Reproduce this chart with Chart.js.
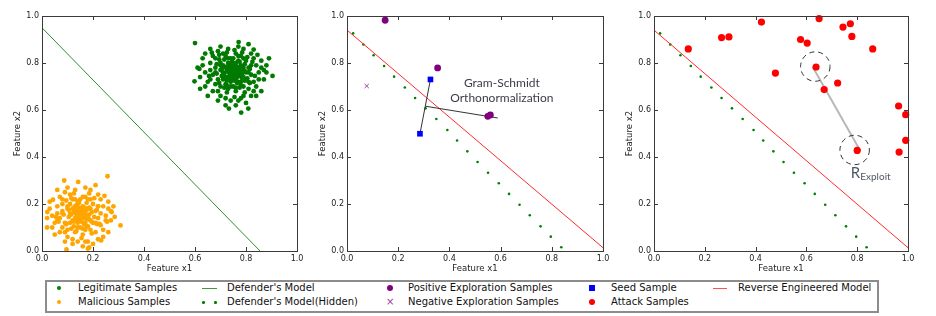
<!doctype html>
<html lang="en">
<head>
<meta charset="utf-8">
<title>Model extraction scatter plots</title>
<script src="https://cdn.jsdelivr.net/npm/chart.js"></script>
<style>
  body { margin:0; background:#fff; width:936px; height:316px; position:relative; overflow:hidden;
         font-family:"DejaVu Sans", sans-serif; }
  canvas { position:absolute; top:0; }
  #legend { position:absolute; left:45px; top:280px; width:830px; height:29px; border:2px solid #8c8c8c; }
  .lbl { position:absolute; font-size:10px; line-height:12px; color:#111; white-space:nowrap; }
  .mk { position:absolute; }
</style>
</head>
<body>
<canvas id="c1" width="310" height="280" style="left:0px"></canvas>
<canvas id="c2" width="310" height="280" style="left:305px"></canvas>
<canvas id="c3" width="324" height="280" style="left:612px"></canvas>

<div id="legend"></div>
<!-- legend markers -->
<div class="mk" style="left:57px;top:286px;width:4px;height:4px;border-radius:50%;background:#008000"></div>
<div class="mk" style="left:57px;top:300px;width:4px;height:4px;border-radius:50%;background:#ffa500"></div>
<div class="mk" style="left:202px;top:288px;width:15px;height:1px;background:#3c9c3c"></div>
<div class="mk" style="left:202px;top:301px;width:2.5px;height:2.5px;border-radius:50%;background:#008000"></div>
<div class="mk" style="left:214px;top:301px;width:2.5px;height:2.5px;border-radius:50%;background:#008000"></div>
<div class="mk" style="left:387px;top:285px;width:6px;height:6px;border-radius:50%;background:#800080"></div>
<div class="mk" style="left:386px;top:296px;font-size:10px;line-height:12px;color:#a040a0">×</div>
<div class="mk" style="left:589px;top:285px;width:6px;height:6px;background:#0000ff"></div>
<div class="mk" style="left:589px;top:299px;width:6px;height:6px;border-radius:50%;background:#ff0000"></div>
<div class="mk" style="left:713px;top:288px;width:14px;height:1px;background:#ff5050"></div>
<!-- legend text -->
<div class="lbl" style="left:78px;top:282px">Legitimate Samples</div>
<div class="lbl" style="left:78px;top:296px">Malicious Samples</div>
<div class="lbl" style="left:227px;top:282px">Defender's Model</div>
<div class="lbl" style="left:227px;top:296px">Defender's Model(Hidden)</div>
<div class="lbl" style="left:408px;top:282px">Positive Exploration Samples</div>
<div class="lbl" style="left:408px;top:296px">Negative Exploration Samples</div>
<div class="lbl" style="left:611px;top:282px">Seed Sample</div>
<div class="lbl" style="left:611px;top:296px">Attack Samples</div>
<div class="lbl" style="left:738px;top:282px">Reverse Engineered Model</div>

<script>
// ---- data (feature x1, feature x2) ----
const legitimate = [
  [0.60,0.885],[0.598,0.722],[0.771,0.889],[0.904,0.745],[0.781,0.589],[0.809,0.606],[0.733,0.606],[0.617,0.775],[0.89,0.82],[0.83,0.857],[0.666,0.844],
  [0.70,0.80],[0.72,0.78],[0.74,0.76],[0.76,0.75],[0.78,0.77],[0.75,0.79],[0.73,0.74],[0.77,0.72],[0.79,0.74],[0.71,0.76],
  [0.68,0.78],[0.69,0.73],[0.81,0.78],[0.80,0.81],[0.74,0.82],[0.76,0.84],[0.72,0.83],[0.78,0.83],[0.82,0.75],[0.83,0.72],
  [0.70,0.70],[0.73,0.69],[0.76,0.68],[0.79,0.70],[0.81,0.69],[0.67,0.75],[0.66,0.80],[0.65,0.72],[0.84,0.79],[0.85,0.76],
  [0.75,0.73],[0.77,0.76],[0.74,0.78],[0.72,0.71],[0.78,0.79],[0.80,0.76],[0.71,0.79],[0.76,0.80],[0.73,0.77],[0.75,0.70],
  [0.64,0.76],[0.63,0.79],[0.67,0.83],[0.69,0.85],[0.73,0.86],[0.79,0.86],[0.82,0.84],[0.86,0.81],[0.87,0.73],[0.84,0.70],
  [0.82,0.66],[0.78,0.65],[0.74,0.64],[0.70,0.66],[0.67,0.68],[0.64,0.70],[0.62,0.74],[0.66,0.77],[0.68,0.71],[0.71,0.73],
  [0.745,0.745],[0.765,0.765],[0.755,0.775],[0.735,0.755],[0.775,0.745],[0.725,0.765],[0.785,0.755],[0.745,0.805],[0.765,0.715],[0.705,0.745],
  [0.805,0.735],[0.795,0.795],[0.715,0.815],[0.685,0.795],[0.825,0.805],[0.755,0.855],[0.695,0.835],[0.775,0.695],[0.725,0.675],[0.835,0.745],
  [0.66,0.86],[0.70,0.87],[0.77,0.87],[0.81,0.88],[0.63,0.82],[0.87,0.77],[0.88,0.79],[0.86,0.68],[0.84,0.66],[0.80,0.63],
  [0.76,0.62],[0.72,0.62],[0.69,0.64],[0.65,0.66],[0.62,0.69],[0.61,0.78],[0.64,0.84],[0.79,0.66],[0.83,0.68],[0.88,0.76],
  [0.74,0.72],[0.76,0.73],[0.78,0.72],[0.72,0.74],[0.70,0.77],[0.73,0.80],[0.77,0.81],[0.79,0.78],[0.81,0.76],[0.75,0.77],
  [0.715,0.695],[0.755,0.655],[0.795,0.675],[0.685,0.755],[0.655,0.745],[0.845,0.835],[0.725,0.845],[0.785,0.845],[0.805,0.825],[0.695,0.815],
  [0.735,0.735],[0.755,0.745],[0.765,0.755],[0.745,0.765],[0.725,0.725],[0.785,0.785],[0.775,0.775],[0.715,0.755],[0.755,0.725],[0.795,0.765],
  [0.745,0.785],[0.765,0.785],[0.735,0.795],[0.775,0.805],[0.705,0.775],[0.795,0.725],[0.815,0.775],[0.815,0.715],[0.695,0.715],[0.725,0.705],
  [0.76,0.695],[0.74,0.70],[0.78,0.705],[0.70,0.79],[0.82,0.79],[0.75,0.82],[0.77,0.83],[0.73,0.82],[0.71,0.84],[0.79,0.82],
  [0.68,0.76],[0.66,0.73],[0.69,0.68],[0.72,0.65],[0.77,0.64],[0.81,0.72],[0.85,0.73],[0.86,0.78],[0.83,0.82],[0.68,0.82],
  [0.735,0.775],[0.755,0.76],[0.75,0.74],[0.745,0.755],[0.765,0.74],[0.725,0.785],[0.785,0.735],[0.76,0.77],[0.74,0.75],[0.77,0.78]
];
const malicious = [
  [0.257,0.318],[0.087,0.30],[0.142,0.294],[0.096,0.007],[0.18,0.01],[0.308,0.109],[0.021,0.166],[0.232,0.045],[0.043,0.218],[0.273,0.166],
  [0.12,0.18],[0.14,0.16],[0.16,0.14],[0.18,0.15],[0.15,0.17],[0.13,0.14],[0.17,0.12],[0.19,0.13],[0.11,0.16],[0.15,0.13],
  [0.08,0.17],[0.09,0.12],[0.21,0.17],[0.20,0.20],[0.14,0.21],[0.16,0.23],[0.12,0.22],[0.18,0.22],[0.22,0.14],[0.23,0.11],
  [0.10,0.09],[0.13,0.08],[0.16,0.07],[0.19,0.09],[0.21,0.08],[0.07,0.14],[0.06,0.19],[0.05,0.12],[0.24,0.19],[0.25,0.15],
  [0.145,0.145],[0.165,0.165],[0.155,0.175],[0.135,0.155],[0.175,0.135],[0.125,0.165],[0.185,0.155],[0.145,0.205],[0.165,0.115],[0.105,0.145],
  [0.04,0.15],[0.03,0.18],[0.07,0.23],[0.09,0.25],[0.13,0.26],[0.19,0.26],[0.22,0.24],[0.26,0.21],[0.27,0.13],[0.24,0.09],
  [0.22,0.05],[0.18,0.04],[0.14,0.04],[0.10,0.06],[0.07,0.08],[0.04,0.10],[0.02,0.14],[0.06,0.16],[0.08,0.10],[0.11,0.12],
  [0.115,0.095],[0.155,0.055],[0.195,0.075],[0.085,0.155],[0.055,0.145],[0.245,0.235],[0.125,0.245],[0.185,0.245],[0.205,0.225],[0.095,0.215],
  [0.06,0.26],[0.10,0.27],[0.17,0.27],[0.21,0.28],[0.03,0.21],[0.27,0.17],[0.28,0.19],[0.26,0.08],[0.24,0.06],[0.20,0.03],
  [0.16,0.02],[0.12,0.03],[0.09,0.04],[0.05,0.07],[0.02,0.10],[0.18,0.18],[0.14,0.12],[0.16,0.19],[0.12,0.13],[0.20,0.12],
  [0.13,0.19],[0.17,0.16],[0.15,0.10],[0.11,0.20],[0.19,0.18],[0.10,0.18],[0.23,0.16],[0.08,0.20],[0.17,0.09],[0.22,0.19],
  [0.135,0.085],[0.175,0.205],[0.205,0.145],[0.095,0.115],[0.115,0.225],[0.225,0.115],[0.065,0.125],[0.255,0.125],[0.285,0.145],[0.185,0.015],
  [0.135,0.135],[0.155,0.145],[0.165,0.155],[0.145,0.165],[0.125,0.125],[0.185,0.185],[0.175,0.175],[0.115,0.155],[0.155,0.125],[0.195,0.165],
  [0.145,0.185],[0.165,0.185],[0.135,0.195],[0.175,0.105],[0.105,0.175],[0.195,0.125],[0.215,0.175],[0.215,0.115],[0.095,0.115],[0.125,0.105],
  [0.16,0.095],[0.14,0.10],[0.18,0.105],[0.10,0.19],[0.22,0.19],[0.15,0.22],[0.17,0.23],[0.13,0.22],[0.11,0.24],[0.19,0.22],
  [0.08,0.16],[0.06,0.13],[0.09,0.08],[0.12,0.05],[0.17,0.04],[0.21,0.12],[0.25,0.13],[0.26,0.18],[0.23,0.22],[0.08,0.22],
  [0.135,0.175],[0.155,0.16],[0.15,0.14],[0.145,0.155],[0.165,0.14],[0.125,0.185],[0.185,0.135],[0.16,0.17],[0.14,0.15],[0.17,0.18]
];
const defenderModel = [[0, 0.95], [0.855, 0]];
const hiddenModel = [
  [0.024,0.926],[0.064,0.879],[0.104,0.833],[0.145,0.787],[0.184,0.742],[0.226,0.696],[0.266,0.651],
  [0.307,0.607],[0.349,0.562],[0.392,0.515],[0.43,0.47],[0.47,0.424],[0.51,0.379],[0.551,0.333],
  [0.593,0.288],[0.633,0.243],[0.674,0.197],[0.714,0.152],[0.756,0.105],[0.796,0.061],[0.837,0.016]
];
const reverseModel = [[0, 0.94], [1.0, 0.014]];
const positiveExploration = [[0.149,0.982],[0.354,0.779],[0.55,0.573],[0.56,0.579]];
const negativeExploration = [[0.077,0.702]];
const seedSamples = [[0.285,0.499],[0.326,0.730]];
const gramSchmidtA = [[0.285,0.499],[0.326,0.730]];
const gramSchmidtB = [[0.307,0.616],[0.589,0.566]];
const attackSamples = [
  [0.135,0.86],[0.266,0.908],[0.295,0.911],[0.423,0.974],[0.478,0.757],[0.577,0.90],[0.603,0.885],
  [0.638,0.783],[0.65,0.989],[0.67,0.687],[0.723,0.715],[0.744,0.953],[0.773,0.967],[0.779,0.913],
  [0.861,0.86],[0.963,0.617],[0.991,0.58],[0.991,0.471],[0.965,0.421],[0.80,0.428]
];
const exploitLink = [[0.625,0.783],[0.8125,0.426]];
const exploitCircles = [[0.635,0.785],[0.79,0.43]];
const tickValues = [0, 0.2, 0.4, 0.6, 0.8, 1.0];

const pts = a => a.map(p => ({x: p[0], y: p[1]}));
const FONT = '"DejaVu Sans", sans-serif';

function scatter(data, color, radius, extra) {
  return Object.assign({type: 'scatter', data: pts(data), backgroundColor: color, borderColor: color,
    pointRadius: radius, pointBorderWidth: 0, clip: 0}, extra || {});
}
function line(data, color, width) {
  return {type: 'line', data: pts(data), borderColor: color, borderWidth: width || 1,
    pointRadius: 0, showLine: true, fill: false, tension: 0, clip: 0};
}

// frame with inward ticks on all four sides, matplotlib style
const framePlugin = {
  id: 'frame',
  afterDraw(chart) {
    const {ctx, chartArea: a, scales: {x, y}} = chart;
    ctx.save();
    ctx.strokeStyle = '#3a3a3a';
    ctx.lineWidth = 1;
    ctx.strokeRect(Math.round(a.left) + 0.5, Math.round(a.top) + 0.5,
                   Math.round(a.right - a.left), Math.round(a.bottom - a.top));
    ctx.beginPath();
    tickValues.forEach(v => {
      const px = Math.round(x.getPixelForValue(v)) + 0.5;
      ctx.moveTo(px, a.bottom); ctx.lineTo(px, a.bottom - 4);
      ctx.moveTo(px, a.top); ctx.lineTo(px, a.top + 4);
      const py = Math.round(y.getPixelForValue(v)) + 0.5;
      ctx.moveTo(a.left, py); ctx.lineTo(a.left + 4, py);
      ctx.moveTo(a.right, py); ctx.lineTo(a.right - 4, py);
    });
    ctx.stroke();
    ctx.restore();
  }
};

function makeChart(id, datasets, rightPad, notes) {
  const tickFont = {family: FONT, size: 8};
  const titleFont = {family: FONT, size: 8.5};
  return new Chart(document.getElementById(id), {
    type: 'scatter',
    data: {datasets: datasets},
    options: {
      responsive: false, animation: false,
      layout: {padding: {top: 16, right: rightPad, left: 0, bottom: 0}},
      plugins: {legend: {display: false}, tooltip: {enabled: false}},
      scales: {
        x: {type: 'linear', min: 0, max: 1,
            grid: {display: false, drawTicks: false}, border: {display: false},
            ticks: {stepSize: 0.2, padding: 3, maxRotation: 0, color: '#222', font: tickFont,
                    callback: v => v.toFixed(1)},
            title: {display: true, text: 'Feature x1', color: '#222', font: titleFont, padding: {top: 0, bottom: 6}},
            afterFit(s) { s.height = 29; }},
        y: {type: 'linear', min: 0, max: 1,
            grid: {display: false, drawTicks: false}, border: {display: false},
            ticks: {stepSize: 0.2, padding: 3, color: '#222', font: tickFont,
                    callback: v => v.toFixed(1)},
            title: {display: true, text: 'Feature x2', color: '#222', font: titleFont, padding: {top: 13, bottom: 0}},
            afterFit(s) { s.width = 42; }}
      }
    },
    plugins: [framePlugin, {id: 'notes', afterDatasetsDraw: notes || (() => {})}]
  });
}

// panel 1: defender's model and the two classes
makeChart('c1', [
  scatter(legitimate, '#007a00', 2.4),
  scatter(malicious, '#ffa500', 2.4),
  line(defenderModel, '#2f902f', 1)
], 13);

// panel 2: exploration with Gram-Schmidt
makeChart('c2', [
  scatter(seedSamples, '#0000ff', 4, {pointStyle: 'rect'}),
  scatter(positiveExploration, '#800080', 3.4),
  scatter(negativeExploration, '#a040a0', 3, {pointStyle: 'crossRot', pointBorderWidth: 1}),
  line(gramSchmidtA, '#333333', 1),
  line(gramSchmidtB, '#333333', 1),
  line(reverseModel, '#ff2a2a', 1),
  scatter(hiddenModel, '#008000', 1.3)
], 12, chart => {
  const {ctx, scales: {x, y}} = chart;
  ctx.save();
  ctx.fillStyle = '#3c3c48';
  ctx.font = '12px Lato, sans-serif';
  ctx.textAlign = 'center';
  ctx.textBaseline = 'middle';
  ctx.fillText('Gram-Schmidt', x.getPixelForValue(0.605), y.getPixelForValue(0.715));
  ctx.fillText('Orthonormalization', x.getPixelForValue(0.605), y.getPixelForValue(0.652));
  ctx.restore();
});

// panel 3: attack samples
makeChart('c3', [
  scatter(attackSamples, '#ff0000', 3.6, {clip: false}),
  line(exploitLink, '#b8b8b8', 2),
  line(reverseModel, '#ff2a2a', 1),
  scatter(hiddenModel, '#008000', 1.3)
], 28, chart => {
  const {ctx, scales: {x, y}} = chart;
  ctx.save();
  ctx.strokeStyle = '#333';
  ctx.lineWidth = 1;
  ctx.setLineDash([5, 4]);
  exploitCircles.forEach(c => {
    const r = x.getPixelForValue(0.058) - x.getPixelForValue(0);
    ctx.beginPath();
    ctx.arc(x.getPixelForValue(c[0]), y.getPixelForValue(c[1]), r, 0, Math.PI * 2);
    ctx.stroke();
  });
  ctx.setLineDash([]);
  ctx.fillStyle = '#4f5866';
  ctx.textBaseline = 'alphabetic';
  const tx = x.getPixelForValue(0.775), ty = y.getPixelForValue(0.31);
  ctx.font = '15px Lato, sans-serif';
  ctx.fillText('R', tx, ty);
  const w = ctx.measureText('R').width;
  ctx.font = '10px Lato, sans-serif';
  ctx.fillText('Exploit', tx + w, ty + 2);
  ctx.restore();
});
</script>
</body>
</html>
